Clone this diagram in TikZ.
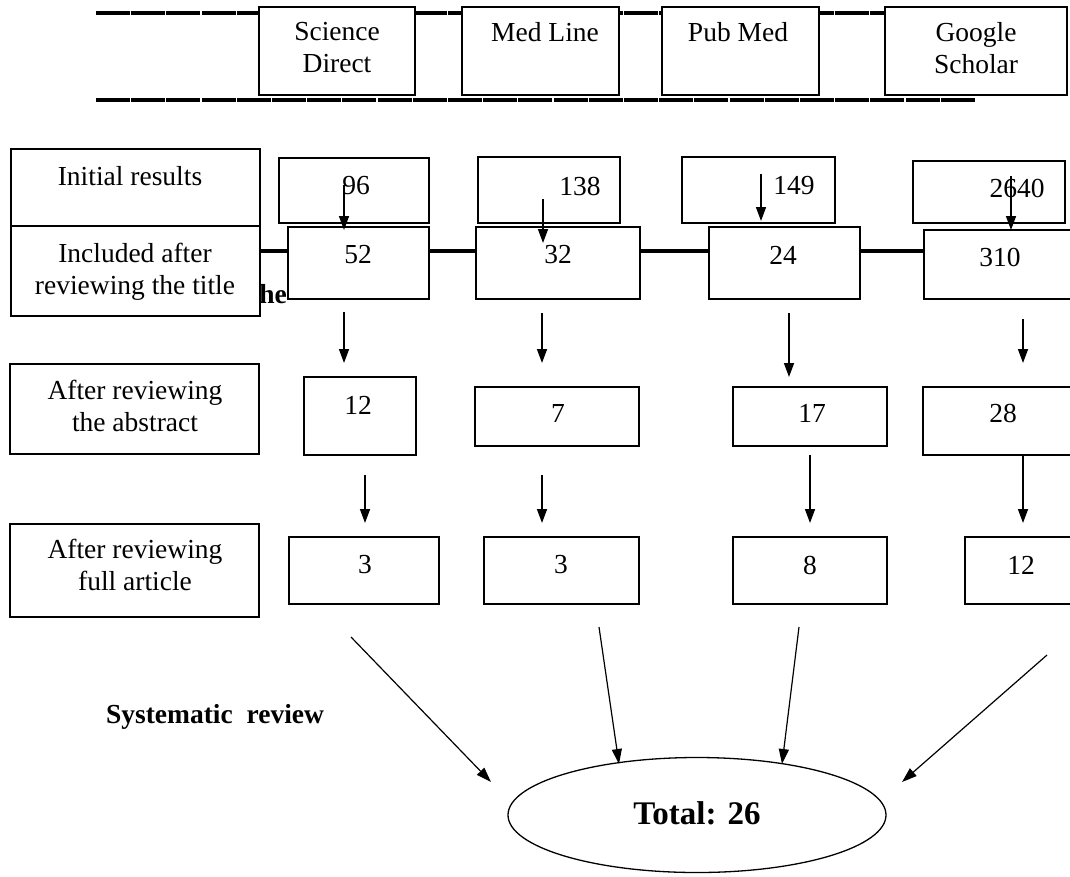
\documentclass[tikz,border=0pt]{standalone}
\usepackage{fontspec}
\setmainfont{Liberation Serif}
\usetikzlibrary{arrows.meta,shapes.geometric}
\begin{document}
\begin{tikzpicture}[x=1pt,y=-1pt,
  box/.style={draw,line width=1.6pt,fill=white,inner sep=0pt},
  lbl/.style={inner sep=0pt,align=center,font=\fontsize{27.5}{32}\selectfont},
  blbl/.style={inner sep=0pt,align=center,font=\fontsize{27.5}{32}\selectfont\bfseries},
  rule/.style={line width=3.6pt,dash pattern=on 34pt off 1.2pt},
  arr/.style={line width=1.5pt,-{Triangle[length=14pt,width=10pt]}},
  darr/.style={line width=1.2pt,-{Triangle[length=15pt,width=10pt]}}]
\useasboundingbox (0,0) rectangle (1070,876);
% header rules
\coordinate (tl) at (96,13);
\coordinate (tr) at (885,13);
\coordinate (bl) at (96,100);
\coordinate (br) at (975,100);
\draw[rule] (tl) -- (tr);
\draw[rule] (bl) -- (br);
% header boxes
\node[box,minimum width=156,minimum height=88] (sd) at (337,51) {};
\node[box,minimum width=157,minimum height=88] (ml) at (540.5,51) {};
\node[box,minimum width=157,minimum height=88] (pm) at (740.5,51) {};
\node[box,minimum width=182,minimum height=88] (gs) at (976,51) {};
\node[lbl] (sdt) at (337,48) {Science\\Direct};
\node[lbl] (mlt) at (545,32) {Med Line};
\node[lbl] (pmt) at (738,32) {Pub Med};
\node[lbl] (gst) at (976,48) {Google\\Scholar};
% middle rule
\coordinate (ml1) at (260,251);
\coordinate (ml2) at (924,251);
\draw[line width=3.6pt] (ml1) -- (ml2);
\node[blbl] (he) at (273,294) {he};
% rows 1-2
\node[box,minimum width=249,minimum height=77] (init) at (135.5,187.5) {};
\node[box,minimum width=249,minimum height=90] (incl) at (135.5,271) {};
\node[lbl] (initt) at (130,176) {Initial results};
\node[lbl] (inclt) at (135,272) {Included after\\reviewing the title};
\node[box,minimum width=150,minimum height=65] (b96) at (354,190.5) {};
\node[box,minimum width=142,minimum height=66] (b138) at (549,190) {};
\node[box,minimum width=153,minimum height=66] (b149) at (758.5,190) {};
\node[box,minimum width=152,minimum height=62] (b2640) at (989,192) {};
\node[box,minimum width=141,minimum height=72] (b52) at (358.5,263) {};
\node[box,minimum width=164,minimum height=72] (b32) at (558,263) {};
\node[box,minimum width=151,minimum height=72] (b24) at (784.5,263) {};
\node[box,minimum width=148,minimum height=69] (b310) at (998,264.5) {};
\node[lbl] (t96) at (356,186) {96};
\node[lbl] (t138) at (580,186) {138};
\node[lbl] (t149) at (794,186) {149};
\node[lbl] (t2640) at (1017,188) {2640};
\node[lbl] (t52) at (358,255) {52};
\node[lbl] (t32) at (558,255) {32};
\node[lbl] (t24) at (783,255) {24};
\node[lbl] (t310) at (1000,257) {310};
% row 3
\node[box,minimum width=249,minimum height=90] (abs) at (134.5,409) {};
\node[lbl] (abst) at (135,406) {After reviewing\\the abstract};
\node[box,minimum width=112,minimum height=78] (b12a) at (360,416) {};
\node[box,minimum width=164,minimum height=59] (b7) at (557,416.5) {};
\node[box,minimum width=154,minimum height=59] (b17) at (810,416.5) {};
\node[box,minimum width=149,minimum height=68] (b28) at (997.5,421) {};
\node[lbl] (t12a) at (358,405) {12};
\node[lbl] (t7) at (558,413) {7};
\node[lbl] (t17) at (812,413) {17};
\node[lbl] (t28) at (1003,413) {28};
% row 4
\node[box,minimum width=249,minimum height=93] (full) at (134.5,570.5) {};
\node[lbl] (fullt) at (135,565) {After reviewing\\full article};
\node[box,minimum width=150,minimum height=67] (b3a) at (364,570.5) {};
\node[box,minimum width=155,minimum height=67] (b3b) at (561.5,570.5) {};
\node[box,minimum width=154,minimum height=67] (b8) at (810,570.5) {};
\node[box,minimum width=107,minimum height=67] (b12b) at (1018.5,570.5) {};
\node[lbl] (t3a) at (365,565) {3};
\node[lbl] (t3b) at (561,565) {3};
\node[lbl] (t8) at (810,565) {8};
\node[lbl] (t12b) at (1021,565) {12};
% arrows rows 1->2
\coordinate (a1s) at (344,185);  \coordinate (a1e) at (344,230);
\coordinate (a2s) at (543,199);  \coordinate (a2e) at (543,243);
\coordinate (a3s) at (761,174);  \coordinate (a3e) at (761,221);
\coordinate (a4s) at (1011,176); \coordinate (a4e) at (1011,230);
\draw[arr] (a1s) -- (a1e);
\draw[arr] (a2s) -- (a2e);
\draw[arr] (a3s) -- (a3e);
\draw[arr] (a4s) -- (a4e);
% arrows rows 2->3
\coordinate (c1s) at (344,312);  \coordinate (c1e) at (344,363);
\coordinate (c2s) at (542,313);  \coordinate (c2e) at (542,363);
\coordinate (c3s) at (789,313);  \coordinate (c3e) at (789,377);
\coordinate (c4s) at (1023,319); \coordinate (c4e) at (1023,363);
\draw[arr] (c1s) -- (c1e);
\draw[arr] (c2s) -- (c2e);
\draw[arr] (c3s) -- (c3e);
\draw[arr] (c4s) -- (c4e);
% arrows rows 3->4
\coordinate (d1s) at (365,475);  \coordinate (d1e) at (365,523);
\coordinate (d2s) at (542,475);  \coordinate (d2e) at (542,523);
\coordinate (d3s) at (810,455);  \coordinate (d3e) at (810,523);
\coordinate (d4s) at (1023,455); \coordinate (d4e) at (1023,523);
\draw[arr] (d1s) -- (d1e);
\draw[arr] (d2s) -- (d2e);
\draw[arr] (d3s) -- (d3e);
\draw[arr] (d4s) -- (d4e);
% total
\node[blbl] (sys) at (215,717) {Systematic\ \ review};
\node[draw,ellipse,line width=1.3pt,minimum width=378,minimum height=115,inner sep=0pt] (tot) at (697,815) {};
\node[inner sep=0pt,font=\fontsize{33}{38}\selectfont\bfseries] (tott) at (697,813) {Total: 26};
\coordinate (e1s) at (351,637);  \coordinate (e1e) at (491,782);
\coordinate (e2s) at (599,627);  \coordinate (e2e) at (619,764);
\coordinate (e3s) at (799,627);  \coordinate (e3e) at (782,764);
\coordinate (e4s) at (1047,655); \coordinate (e4e) at (902,782);
\draw[darr] (e1s) -- (e1e);
\draw[darr] (e2s) -- (e2e);
\draw[darr] (e3s) -- (e3e);
\draw[darr] (e4s) -- (e4e);
\end{tikzpicture}
\end{document}
